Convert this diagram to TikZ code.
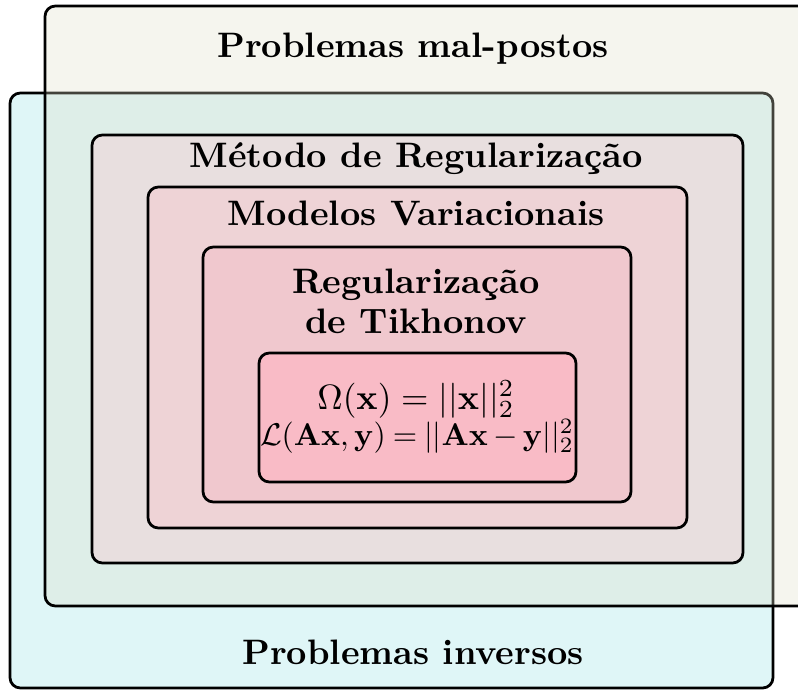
\documentclass[tikz,border=0pt]{standalone}
\usepackage{amsmath}
\definecolor{cblue}{RGB}{223,246,247}
\definecolor{cbeige}{RGB}{221,221,198}
\definecolor{cmet}{RGB}{232,223,223}
\definecolor{cmod}{RGB}{238,211,214}
\definecolor{ctik}{RGB}{240,200,206}
\definecolor{ceq}{RGB}{249,187,198}
\tikzset{
  box/.style={draw=black, line width=0.8pt, rounded corners=3pt},
  title/.style={font=\fontsize{10.25pt}{12pt}\selectfont\bfseries, anchor=base, inner sep=0pt},
  eqn/.style={anchor=base, inner sep=0pt},
}
\begin{document}
\begin{tikzpicture}[x=0.29pt, y=-0.29pt]
\clip (0,0) rectangle (798,689);
% Problemas inversos
\path[box, fill=cblue] (10,93) rectangle (773,688);
% Problemas mal-postos (semi-transparent fill)
\path[box, fill=cbeige, fill opacity=0.3] (45,6) rectangle (810,606);
\node[title] (mal) at (413,57) {Problemas mal-postos};
\node[title] (inv) at (413,664) {Problemas inversos};
% Método de Regularização
\path[box, fill=cmet] (92,135) rectangle (743,563);
\node[title] (met) at (416,167) {Método de Regularização};
% Modelos Variacionais
\path[box, fill=cmod] (148,187) rectangle (687,528);
\node[title] (mod) at (416,225) {Modelos Variacionais};
% Tikhonov
\path[box, fill=ctik] (203,247) rectangle (631,502);
\node[title] (tik1) at (416,293) {Regularização};
\node[title] (tik2) at (416,333) {de Tikhonov};
% Equations
\path[box, fill=ceq] (259,353) rectangle (576,482);
\node[eqn] (eq1) at (416,409) {\scalebox{1.02}{$\Omega(\mathbf{x}) = ||\mathbf{x}||_2^2$}};
\node[eqn] (eq2) at (417,445) {\scalebox{0.91}{$\thickmuskip=4mu\medmuskip=3mu\mathcal{L}(\mathbf{Ax},\mathbf{y}) = ||\mathbf{Ax}-\mathbf{y}||_2^2$}};
\end{tikzpicture}
\end{document}
